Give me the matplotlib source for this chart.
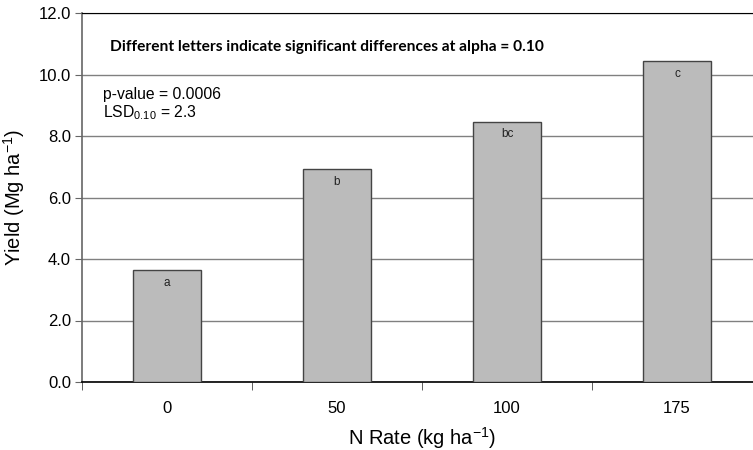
import matplotlib.pyplot as plt
import numpy as np

plt.rcParams['font.family'] = ['Liberation Sans', 'DejaVu Sans']
plt.rcParams['mathtext.fontset'] = 'custom'
plt.rcParams['mathtext.rm'] = 'Liberation Sans'
plt.rcParams['mathtext.it'] = 'Liberation Sans'

# data
n_rates = ['0', '50', '100', '175']
yields = [3.64, 6.92, 8.47, 10.44]
letters = ['a', 'b', 'bc', 'c']

fig = plt.figure(figsize=(7.53, 4.5), dpi=100)
ax = fig.add_axes([82 / 753, 68 / 450, 680 / 753, 369 / 450])

x = np.arange(len(n_rates))
ax.bar(x, yields, width=0.4, color='#bbbbbb', edgecolor='#444444', linewidth=1.0, zorder=3)

for xi, yi, lab in zip(x, yields, letters):
    ax.text(xi, yi - 0.22, lab, ha='center', va='top', fontsize=8.5, color='#222222', zorder=4)

ax.set_xlim(-0.5, 3.5)
ax.set_ylim(0, 12)
ax.set_yticks(np.arange(0, 12.1, 2))
ax.set_yticklabels([f'{v:.1f}' for v in np.arange(0, 12.1, 2)], fontsize=12)
ax.yaxis.grid(True, color='#808080', linewidth=1.0, zorder=0)

ax.set_xticks(x)
ax.set_xticklabels(n_rates, fontsize=12)
ax.tick_params(axis='x', which='major', length=0, pad=14)
ax.set_xticks(np.arange(-0.5, 3.0, 1.0), minor=True)
ax.tick_params(axis='x', which='minor', length=6, color='#444444', direction='out')
ax.tick_params(axis='y', length=5, color='#666666', pad=3)

ax.spines['right'].set_visible(False)
ax.spines['top'].set_color('black')
ax.spines['left'].set_color('#666666')
ax.spines['bottom'].set_color('black')
ax.spines['left'].set_linewidth(1.2)
ax.spines['bottom'].set_linewidth(1.2)

ax.set_xlabel('N Rate (kg ha$^{-1}$)', fontsize=14.5, labelpad=6)
ax.set_ylabel('Yield (Mg ha$^{-1}$)', fontsize=14.5, labelpad=8)

fig.text(110 / 753, 1 - 47 / 450, 'Different letters indicate significant differences at alpha = 0.10',
         fontsize=11.2, fontweight='bold', family=['Lato', 'DejaVu Sans'], va='center', ha='left')
fig.text(103 / 753, 1 - 95 / 450, 'p-value = 0.0006', fontsize=11.3, va='center', ha='left')
fig.text(103 / 753, 1 - 113 / 450, 'LSD$_{0.10}$ = 2.3', fontsize=11.3, va='center', ha='left')

fig.savefig('out.png', dpi=100)
